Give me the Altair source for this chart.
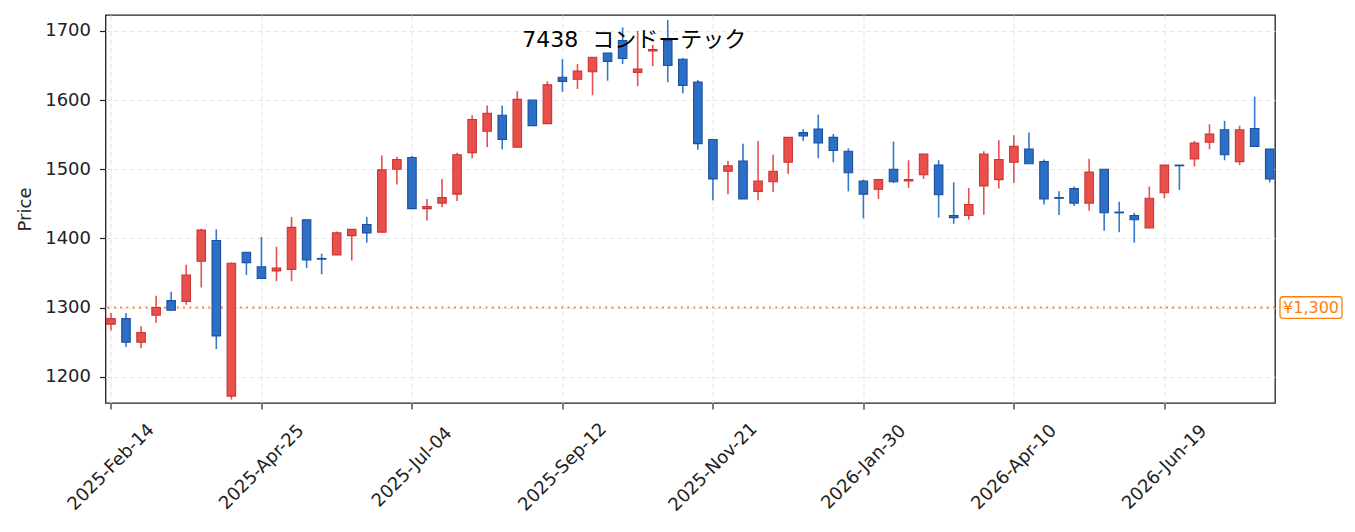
import altair as alt
import pandas as pd
import numpy as np

# Weekly OHLC values
opens = [1276, 1284, 1250, 1289, 1310, 1309, 1367, 1397, 1172, 1380,
         1359, 1353, 1355, 1427, 1371, 1376, 1404, 1420, 1409, 1500,
         1517, 1443, 1451, 1464, 1524, 1555, 1578, 1532, 1600, 1566,
         1633, 1630, 1641, 1668, 1686, 1640, 1671, 1686, 1659, 1626,
         1543, 1497, 1512, 1468, 1482, 1510, 1553, 1558, 1546, 1526,
         1483, 1471, 1500, 1483, 1492, 1506, 1433, 1433, 1476, 1485,
         1510, 1529, 1511, 1459, 1472, 1451, 1500, 1438, 1433, 1415,
         1466, 1506, 1515, 1539, 1557, 1511, 1559, 1529]
highs = [1292, 1292, 1273, 1317, 1323, 1362, 1414, 1413, 1365, 1380,
         1402, 1388, 1431, 1427, 1378, 1410, 1413, 1431, 1520, 1518,
         1519, 1457, 1486, 1524, 1578, 1592, 1592, 1613, 1600, 1627,
         1659, 1652, 1662, 1668, 1705, 1700, 1680, 1716, 1661, 1629,
         1543, 1512, 1537, 1541, 1521, 1546, 1558, 1579, 1551, 1530,
         1485, 1486, 1540, 1513, 1522, 1513, 1481, 1473, 1526, 1542,
         1549, 1553, 1514, 1468, 1475, 1515, 1500, 1453, 1437, 1475,
         1506, 1506, 1541, 1565, 1570, 1563, 1605, 1529]
lows = [1267, 1243, 1241, 1278, 1295, 1304, 1329, 1240, 1167, 1347,
        1342, 1338, 1338, 1357, 1348, 1376, 1368, 1394, 1409, 1478,
        1443, 1426, 1445, 1454, 1516, 1532, 1529, 1532, 1563, 1566,
        1612, 1616, 1607, 1628, 1652, 1620, 1649, 1626, 1610, 1528,
        1455, 1464, 1457, 1455, 1467, 1493, 1541, 1516, 1510, 1468,
        1429, 1457, 1480, 1473, 1486, 1430, 1421, 1427, 1434, 1472,
        1480, 1508, 1449, 1434, 1447, 1440, 1411, 1409, 1394, 1415,
        1458, 1470, 1504, 1529, 1513, 1506, 1533, 1481]
closes = [1284, 1250, 1264, 1300, 1296, 1347, 1412, 1259, 1364, 1365,
          1342, 1357, 1416, 1369, 1370, 1408, 1413, 1408, 1499, 1514,
          1443, 1446, 1459, 1521, 1572, 1581, 1543, 1601, 1563, 1622,
          1627, 1642, 1662, 1656, 1660, 1645, 1673, 1650, 1621, 1537,
          1486, 1505, 1457, 1483, 1497, 1546, 1548, 1538, 1527, 1495,
          1464, 1485, 1482, 1485, 1522, 1463, 1430, 1449, 1522, 1514,
          1533, 1508, 1457, 1458, 1451, 1496, 1437, 1437, 1427, 1458,
          1506, 1505, 1538, 1551, 1521, 1557, 1533, 1486]

dates = pd.date_range("2025-02-14", periods=len(opens), freq="7D").strftime("%Y-%m-%d").tolist()
tick_dates = dates[::10]
ref_level = 1300
ref_label = "¥1,300"
title_text = "7438\u00a0\u00a0コンドーテック"

df = pd.DataFrame({"date": dates, "open": opens, "high": highs, "low": lows, "close": closes})
df["dir"] = np.where(df["close"] >= df["open"], "up", "down")

RED_FILL, RED_EDGE = "#e8504c", "#cc3535"
BLUE_FILL, BLUE_EDGE = "#2c6fc6", "#1d4f9e"
ORANGE = "#ff7f0e"

def to_dt(s, hours=0):
    y, m, d = (int(v) for v in s.split("-"))
    return alt.DateTime(year=y, month=m, date=d, hours=hours, utc=True)

xscale = alt.Scale(type="utc", nice=False, padding=0,
                   domain=[alt.DateTime(year=2025, month=2, date=11, hours=11, utc=True),
                           alt.DateTime(year=2026, month=8, date=9, hours=11, utc=True)])
xaxis = alt.Axis(values=[to_dt(d) for d in tick_dates], format="%Y-%b-%d", labelAngle=-45,
                 labelAlign="center", labelBaseline="middle", labelPadding=58, title=None,
                 labelFlush=False, labelOverlap=False)
yscale = alt.Scale(domain=[1162, 1723], nice=False, zero=False, padding=0)
yaxis = alt.Axis(values=[1200, 1300, 1400, 1500, 1600, 1700], format="d", title="Price", labelPadding=9,
                 titleX=-80, titleY=194, titleAngle=-90, titleAlign="center", titleBaseline="middle")

base = alt.Chart(df)

wicks = base.mark_rule(strokeWidth=1.6).encode(
    x=alt.X("date:T", scale=xscale, axis=xaxis),
    y=alt.Y("low:Q", scale=yscale, axis=yaxis),
    y2="high:Q",
    color=alt.Color("dir:N", scale=alt.Scale(domain=["up", "down"], range=[RED_FILL, "#3577c9"]), legend=None),
)

bodies = base.mark_bar(width=8.5, strokeWidth=1.1).encode(
    x=alt.X("date:T", scale=xscale, axis=xaxis),
    y=alt.Y("open:Q", scale=yscale, axis=yaxis),
    y2="close:Q",
    fill=alt.Fill("dir:N", scale=alt.Scale(domain=["up", "down"], range=[RED_FILL, BLUE_FILL]), legend=None),
    stroke=alt.Stroke("dir:N", scale=alt.Scale(domain=["up", "down"], range=[RED_EDGE, BLUE_EDGE]), legend=None),
)

ref_line = alt.Chart(pd.DataFrame({"level": [ref_level]})).mark_rule(
    color=ORANGE, strokeDash=[2, 4.3], strokeWidth=2, opacity=0.9
).encode(y=alt.Y("level:Q", scale=yscale, axis=yaxis))

lab_df = pd.DataFrame({"level": [ref_level], "top": [ref_level + 15.6], "bot": [ref_level - 15.6], "label": [ref_label]})
ref_box = alt.Chart(lab_df).mark_rect(fill="white", stroke=ORANGE, strokeWidth=1.3, cornerRadius=3).encode(
    x=alt.value(1174.5), x2=alt.value(1236.5),
    y=alt.Y("top:Q", scale=yscale, axis=yaxis), y2="bot:Q",
)
ref_text = alt.Chart(lab_df).mark_text(color=ORANGE, fontSize=16, font="DejaVu Sans",
                                       align="center", baseline="middle").encode(
    x=alt.value(1205.5), y=alt.Y("level:Q", scale=yscale, axis=yaxis), text="label:N"
)

chart = alt.layer(wicks, ref_line, bodies, ref_box, ref_text).properties(
    width=1169.5, height=388,
    autosize=alt.AutoSizeParams(type="none"),
    padding={"left": 97.5, "top": 7, "right": 70, "bottom": 118},
    title=alt.TitleParams(text=title_text, font="DejaVu Sans, Noto Sans CJK JP", fontSize=22,
                          fontWeight="normal", color="#000", anchor="middle", frame="group",
                          baseline="alphabetic", offset=0, dx=-56, dy=54),
).configure_view(stroke="#222", strokeWidth=1.3).configure_axis(
    domain=False, tickColor="#222", tickWidth=1.2, tickSize=6,
    labelFont="DejaVu Sans", labelFontSize=18, labelColor="#222",
    titleFont="DejaVu Sans", titleFontSize=18, titleFontWeight="normal", titleColor="#222",
    gridColor="#e8e8e8", gridDash=[5, 3], gridWidth=1.2,
)

chart.save("out.html", embed_options={"renderer": "svg", "actions": False})
